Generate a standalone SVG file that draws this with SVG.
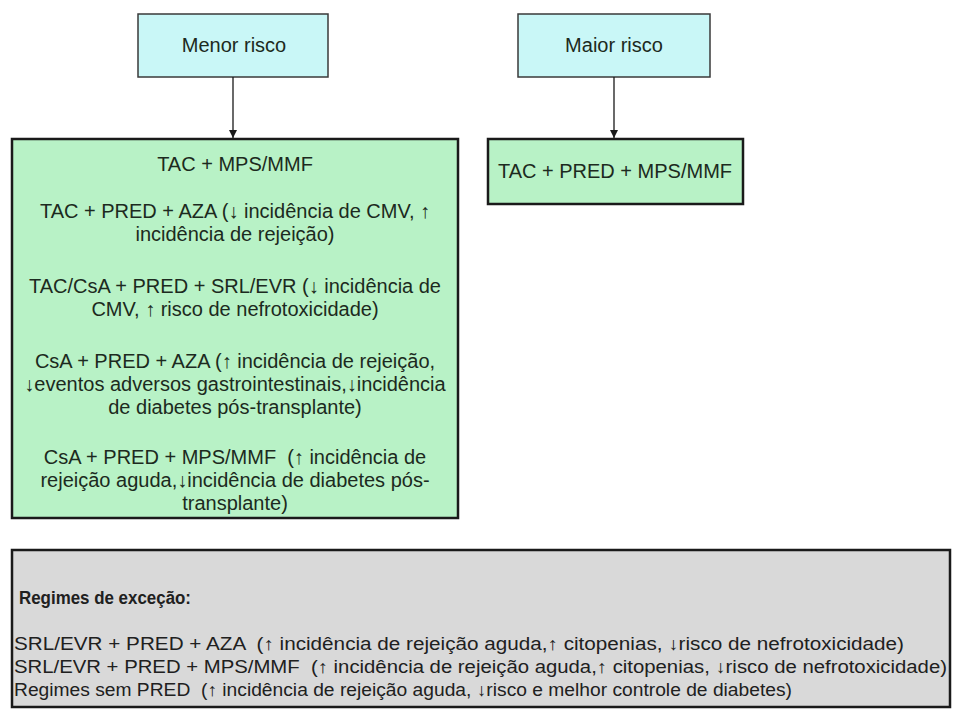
<svg xmlns="http://www.w3.org/2000/svg" width="955" height="709" viewBox="0 0 955 709">
<defs>
<marker id="ah" viewBox="0 0 10 10" refX="10" refY="5" markerWidth="10" markerHeight="8" orient="auto" markerUnits="userSpaceOnUse">
<path d="M0,0 L10,5 L0,10 z" fill="#1a1a1a"/>
</marker>
</defs>
<style>
.top{fill:#c9f7f7;stroke:#3a3a3a;stroke-width:1.5}
.grn{fill:#b8f2c6;stroke:#1a1a1a;stroke-width:2.5}
.gry{fill:#d9d9d9;stroke:#1a1a1a;stroke-width:2.5}
text{font-family:"Liberation Sans",Arial,sans-serif;font-size:20px;fill:#1c2a20}
.c{text-anchor:middle}
.g{fill:#202020;font-size:17.5px}
.conn{stroke:#1a1a1a;stroke-width:1.3;fill:none}
</style>
<rect width="955" height="709" fill="#fff"/>
<g id="menor">
<rect class="top" x="138" y="14" width="190" height="63"/>
<text class="c" x="234" y="52">Menor risco</text>
</g>
<g id="maior">
<rect class="top" x="518" y="14" width="192" height="63"/>
<text class="c" x="614" y="52">Maior risco</text>
</g>
<g id="connectors">
<line class="conn" x1="233" y1="77" x2="233" y2="138" marker-end="url(#ah)"/>
<line class="conn" x1="614" y1="77" x2="614" y2="138" marker-end="url(#ah)"/>
</g>
<g id="menor-regimes">
<rect class="grn" x="12" y="139" width="446" height="379"/>
<text class="c" x="235" y="171">TAC + MPS/MMF</text>
<text class="c" x="235" y="218">TAC + PRED + AZA (↓ incidência de CMV, ↑</text>
<text class="c" x="235" y="241">incidência de rejeição)</text>
<text class="c" x="235" y="293">TAC/CsA + PRED + SRL/EVR (↓ incidência de</text>
<text class="c" x="235" y="316">CMV, ↑ risco de nefrotoxicidade)</text>
<text class="c" x="235" y="368">CsA + PRED + AZA (↑ incidência de rejeição,</text>
<text class="c" x="235" y="391">↓eventos adversos gastrointestinais,↓incidência</text>
<text class="c" x="235" y="414">de diabetes pós-transplante)</text>
<text class="c" x="235" y="464" xml:space="preserve">CsA + PRED + MPS/MMF  (↑ incidência de</text>
<text class="c" x="235" y="487">rejeição aguda,↓incidência de diabetes pós-</text>
<text class="c" x="235" y="510">transplante)</text>
</g>
<g id="maior-regimes">
<rect class="grn" x="488" y="139" width="255" height="65"/>
<text class="c" x="615" y="178">TAC + PRED + MPS/MMF</text>
</g>
<g id="excecao">
<rect class="gry" x="12" y="550" width="938" height="157"/>
<text class="g" x="19" y="604" font-weight="bold" textLength="172" lengthAdjust="spacingAndGlyphs">Regimes de exceção:</text>
<text class="g" x="14" y="650" textLength="890" lengthAdjust="spacingAndGlyphs" xml:space="preserve">SRL/EVR + PRED + AZA  (↑ incidência de rejeição aguda,↑ citopenias, ↓risco de nefrotoxicidade)</text>
<text class="g" x="14" y="673" textLength="933" lengthAdjust="spacingAndGlyphs" xml:space="preserve">SRL/EVR + PRED + MPS/MMF  (↑ incidência de rejeição aguda,↑ citopenias, ↓risco de nefrotoxicidade)</text>
<text class="g" x="14" y="696" textLength="778" lengthAdjust="spacingAndGlyphs" xml:space="preserve">Regimes sem PRED  (↑ incidência de rejeição aguda, ↓risco e melhor controle de diabetes)</text>
</g>
</svg>
